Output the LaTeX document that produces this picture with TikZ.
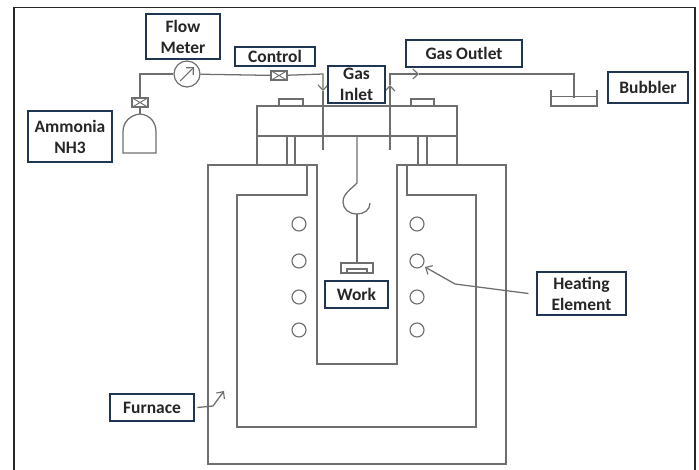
\documentclass[tikz,border=0pt]{standalone}
\usepackage{fontspec}
\setmainfont{Carlito}
\usetikzlibrary{arrows.meta,calc}
\definecolor{pipe}{HTML}{6E6E6E}
\definecolor{navy}{HTML}{1F3552}
\tikzset{
  part/.style={draw=pipe,line width=0.95pt,line join=miter},
  labelbox/.style={draw=navy,line width=0.8pt,fill=white,inner sep=0pt,align=center,
    font=\fontsize{13.1pt}{15.7pt}\selectfont\bfseries,text=black!85},
  coil/.style={circle,draw=pipe,line width=0.85pt,minimum size=10.5pt,inner sep=0pt},
  valve/.style={draw=pipe,line width=0.9pt,fill=white,minimum width=12pt,minimum height=6.8pt,inner sep=0pt},
  barb/.style={-{Straight Barb[length=4pt,width=7.5pt,line width=0.85pt]}},
}
\newcommand{\lbl}[5]{\node[labelbox,minimum width={(#3-#1)*0.75pt},minimum height={(#4-#2)*0.75pt}] (#5) at ({(#1+#3)/2},{(#2+#4)/2})}
\begin{document}
\begin{tikzpicture}[x=0.75pt,y=-0.75pt]
\useasboundingbox (0,0) rectangle (699,469);
% frame
\draw[line width=1.3pt,black!85] (14,470) -- (14,7.5) -- (695,7.5) -- (695,470);
% furnace
\draw[part] (317,165) -- (208,165) -- (208,464) -- (506,464) -- (506,165) -- (397,165) -- (397,364) -- (317,364) -- cycle;
\draw[part] (307,165) -- (307,195) -- (237,195) -- (237,427) -- (476,427) -- (476,195) -- (407,195) -- (407,165);
% lid
\draw[part] (257,106) rectangle (457,136);
\draw[part] (257,136) -- (257,165) (457,136) -- (457,165);
\draw[part] (287,136) -- (287,165) (295,136) -- (295,165);
\draw[part] (418,136) -- (418,165) (427,136) -- (427,165);
\draw[part] (279,106) |- (303,99) -- (303,106);
\draw[part] (411,106) |- (434,99) -- (434,106);
% hook and work holder
\draw[part] (357,136) -- (357,183) .. controls (350,190) and (343,194) .. (343,202)
  .. controls (343,209) and (349,214) .. (357,214) .. controls (364,214) and (370,210) .. (370,203);
\draw[part] (357,214) -- (357,263);
\draw[part] (341,273) -- (341,263) -- (373,263) -- (373,273) -- cycle;
\draw[part] (347,273) -- (347,269) -- (367,269) -- (367,273);
% coils
\foreach \n/\y in {a/224,b/261,c/297,d/330}{
  \node[coil] (l\n) at (299,\y) {};
  \node[coil] (r\n) at (417,\y) {};
}
% cylinder
\draw[part] (123,153) -- (123,132) .. controls (123,122) and (130,115) .. (140,114)
  .. controls (150,115) and (156,122) .. (156,132) -- (156,153) -- cycle;
\coordinate (cyl) at (140,114);
\coordinate (c1) at (140,74);
\coordinate (c2) at (323,74);
\coordinate (inA) at (323,91);
\coordinate (inB) at (323,150);
\coordinate (outA) at (390,150);
\coordinate (outB) at (390,85);
\coordinate (c3) at (390,74);
\coordinate (outC) at (419,74);
\coordinate (c4) at (574,74);
\coordinate (bub) at (574,98);
% valves and meter
\node[valve] (v1) at (140,102.5) {};
\node[valve] (v2) at (279,75.5) {};
\draw[part,line width=0.7pt] (v1.north west) -- (v1.south east) (v1.north east) -- (v1.south west);
\draw[part,line width=0.7pt] (v2.north west) -- (v2.south east) (v2.north east) -- (v2.south west);
\node[circle,draw=pipe,line width=0.9pt,minimum size=19.5pt,inner sep=0pt] (fm) at (187,74) {};
\coordinate (fmA) at (180,81);
\coordinate (fmB) at (194,67);
\draw[part,barb,line width=0.8pt] (fmA) -- (fmB);
% pipes
\draw[part] (cyl) -- (v1);
\draw[part] (v1) -- (c1) -- (fm);
\draw[part] (fm) -- (v2);
\draw[part,barb] (v2) -- (c2) -- (inA);
\draw[part] (inA) -- (inB);
\draw[part,barb] (outA) -- (outB);
\draw[part,barb] (outB) -- (c3) -- (outC);
\draw[part] (outC) -- (c4) -- (bub);
% bubbler
\draw[part] (551,90) -- (551,106) -- (597,106) -- (597,90);
\draw[part] (551,96.5) -- (597,96.5);
% labels
\lbl{146}{14}{220}{59}{flow} {Flow\\Meter};
\lbl{235}{47}{315}{66}{ctrl} {Control};
\lbl{328}{66}{385}{103}{inlet} {Gas\\Inlet};
\lbl{406}{40}{522}{67}{outlet} {Gas Outlet};
\lbl{608}{72}{688}{103}{bubbler} {Bubbler};
\lbl{28}{111}{112}{162}{ammonia} {Ammonia\\NH3};
\lbl{110}{394}{194}{421}{furnace} {Furnace};
\lbl{325}{281}{388}{308}{work} {Work};
\lbl{537}{272}{626}{315}{heat} {Heating\\Element};
% callouts
\coordinate (fk) at (213,406);
\coordinate (ft) at (224,391);
\coordinate (hk) at (455,284);
\coordinate (ht) at (425,267);
\draw[part,barb] ([xshift=2.2pt]furnace.east) -- (fk) -- (ft);
\draw[part,barb] ([xshift=-6pt]heat.west) -- (hk) -- (ht);
\end{tikzpicture}
\end{document}
